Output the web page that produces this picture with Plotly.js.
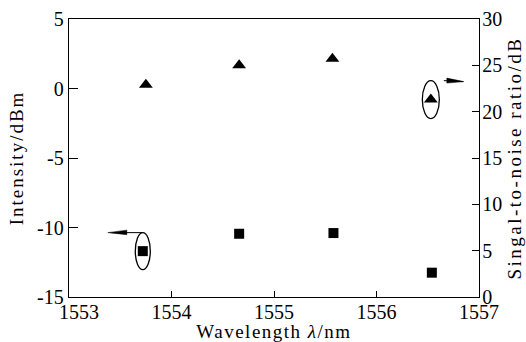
<!DOCTYPE html>
<html>
<head>
<meta charset="utf-8">
<script src="https://cdn.plot.ly/plotly-3.0.1.min.js"></script>
<style>
html,body{margin:0;padding:0;background:#fff;}
#chart{width:526px;height:342px;}
svg text.xtitle{letter-spacing:1.5px;}
svg text.ytitle{letter-spacing:2px;}
svg text.y2title{letter-spacing:2.5px;}
</style>
</head>
<body>
<div id="chart"></div>
<script>
// Data
var intensityWavelength = [1553.72, 1554.66, 1555.58, 1556.54];
var intensityDbm = [-11.7, -10.45, -10.4, -13.25];
var snrWavelength = [1553.75, 1554.66, 1555.57, 1556.53];
var snrDb = [22.9, 25.0, 25.7, 21.3];

var xTicks = [1553, 1554, 1555, 1556, 1557];
var xTickText = ['\u00a0\u00a0\u00a0\u00a01553', '1554', '1555', '1556', '1557'];
var yTicks = [-15, -10, -5, 0, 5];
var yTickText = ['-15', '-10', '-5', '0', '5'];
var y2Ticks = [0, 5, 10, 15, 20, 25, 30];

var font = 'Liberation Serif, Times New Roman, serif';

var traces = [
  {
    x: intensityWavelength, y: intensityDbm, type: 'scatter', mode: 'markers',
    marker: {symbol: 'square', size: 10, color: '#000'}, yaxis: 'y', showlegend: false
  },
  {
    x: snrWavelength, y: snrDb, type: 'scatter', mode: 'markers',
    marker: {symbol: 'triangle-up', size: 12, color: '#000'}, yaxis: 'y2', showlegend: false
  }
];

var shapes = [
  // ellipse around the first intensity point
  {type: 'circle', xref: 'x', yref: 'y', xsizemode: 'pixel', ysizemode: 'pixel',
   xanchor: intensityWavelength[0], yanchor: intensityDbm[0],
   x0: -7.5, x1: 7.5, y0: -18.5, y1: 18.5, line: {color: '#000', width: 1.3}},
  // arrow pointing left to the left axis
  {type: 'path', xref: 'x', yref: 'y', xsizemode: 'pixel', ysizemode: 'pixel',
   xanchor: intensityWavelength[0], yanchor: intensityDbm[0],
   path: 'M0,18.5 L-18,18.5', line: {color: '#000', width: 1}},
  {type: 'path', xref: 'x', yref: 'y', xsizemode: 'pixel', ysizemode: 'pixel',
   xanchor: intensityWavelength[0], yanchor: intensityDbm[0],
   path: 'M-16,21 L-35,18.5 L-16,16.5 Z', fillcolor: '#000', line: {color: '#000', width: 0.5}},
  // ellipse around the last SNR point
  {type: 'circle', xref: 'x', yref: 'y2', xsizemode: 'pixel', ysizemode: 'pixel',
   xanchor: snrWavelength[3], yanchor: snrDb[3],
   x0: -8.5, x1: 8.5, y0: -19, y1: 19, line: {color: '#000', width: 1.3}},
  // arrow pointing right to the right axis
  {type: 'path', xref: 'x', yref: 'y2', xsizemode: 'pixel', ysizemode: 'pixel',
   xanchor: snrWavelength[3], yanchor: snrDb[3],
   path: 'M13,19 L32,18', line: {color: '#000', width: 1}},
  {type: 'path', xref: 'x', yref: 'y2', xsizemode: 'pixel', ysizemode: 'pixel',
   xanchor: snrWavelength[3], yanchor: snrDb[3],
   path: 'M16,21.5 L33,18 L16,16.5 Z', fillcolor: '#000', line: {color: '#000', width: 0.5}}
];

var layout = {
  width: 526, height: 342,
  margin: {l: 69, r: 47, t: 19, b: 45},
  paper_bgcolor: '#fff', plot_bgcolor: '#fff',
  font: {family: font, size: 19, color: '#000'},
  showlegend: false,
  xaxis: {
    range: [1553, 1557], tickvals: xTicks, ticktext: xTickText,
    ticks: 'inside', ticklen: 6, tickwidth: 1, tickcolor: '#000',
    ticklabelstandoff: -3,
    showline: true, linecolor: '#000', linewidth: 1.3, mirror: true,
    showgrid: false, zeroline: false,
    tickfont: {family: font, size: 20, color: '#000'},
    title: {text: 'Wavelength <i>λ</i>/nm', font: {family: font, size: 19, color: '#000'}, standoff: 2}
  },
  yaxis: {
    range: [-15, 5], tickvals: yTicks, ticktext: yTickText,
    ticks: 'inside', ticklen: 9, tickwidth: 1, tickcolor: '#000',
    showline: true, linecolor: '#000', linewidth: 1.3,
    showgrid: false, zeroline: false,
    tickfont: {family: font, size: 20, color: '#000'},
    title: {text: 'Intensity/dBm', font: {family: font, size: 19, color: '#000'}, standoff: 8}
  },
  yaxis2: {
    overlaying: 'y', side: 'right',
    range: [0, 30], tickvals: y2Ticks, ticktext: y2Ticks.map(String),
    ticks: 'inside', ticklen: 7, tickwidth: 1, tickcolor: '#000',
    ticklabelstandoff: -2,
    showline: true, linecolor: '#000', linewidth: 1.3,
    showgrid: false, zeroline: false,
    tickfont: {family: font, size: 20, color: '#000'},
    title: {text: 'Singal-to-noise ratio/dB', font: {family: font, size: 19, color: '#000'}, standoff: 6}
  },
  shapes: shapes
};

Plotly.newPlot('chart', traces, layout, {staticPlot: true, displayModeBar: false});
</script>
</body>
</html>
